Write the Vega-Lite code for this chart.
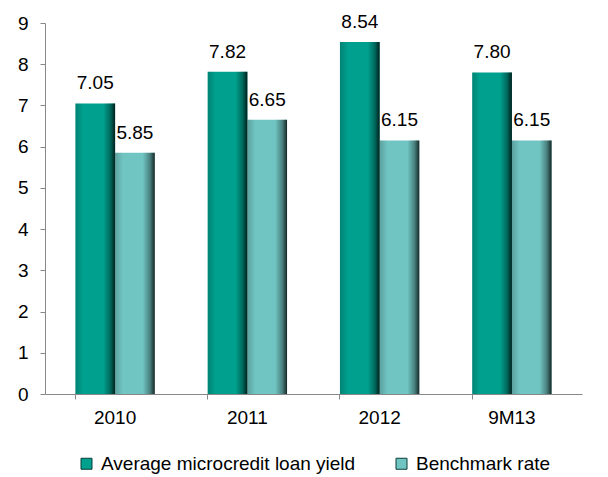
{
  "$schema": "https://vega.github.io/schema/vega-lite/v6.json",
  "width": 537,
  "height": 371,
  "autosize": "none",
  "padding": {"left": 45, "top": 23, "right": 26, "bottom": 83},
  "background": "white",
  "config": {
    "font": "Liberation Sans",
    "view": {"stroke": null},
    "legend": {"layout": {"bottom": {"anchor": "middle"}}}
  },
  "data": {
    "values": [
      {"period": "2010", "series": "Average microcredit loan yield", "value": 7.05},
      {"period": "2010", "series": "Benchmark rate", "value": 5.85},
      {"period": "2011", "series": "Average microcredit loan yield", "value": 7.82},
      {"period": "2011", "series": "Benchmark rate", "value": 6.65},
      {"period": "2012", "series": "Average microcredit loan yield", "value": 8.54},
      {"period": "2012", "series": "Benchmark rate", "value": 6.15},
      {"period": "9M13", "series": "Average microcredit loan yield", "value": 7.80},
      {"period": "9M13", "series": "Benchmark rate", "value": 6.15}
    ]
  },
  "encoding": {
    "x": {
      "field": "period", "type": "nominal", "sort": null,
      "scale": {"paddingInner": 0.4, "paddingOuter": 0.23},
      "axis": {"title": null, "labelAngle": 0, "labelFontSize": 19, "labelColor": "#000", "labelPadding": 9,
               "domainColor": "#888", "tickColor": "#888", "tickSize": 5, "bandPosition": 0}
    },
    "xOffset": {"field": "series", "type": "nominal", "scale": {"paddingInner": 0, "paddingOuter": 0}},
    "y": {
      "field": "value", "type": "quantitative",
      "scale": {"domain": [0, 9], "nice": false},
      "axis": {"title": null, "values": [0,1,2,3,4,5,6,7,8,9], "labelOverlap": false, "grid": false, "labelFontSize": 19, "labelColor": "#000", "labelPadding": 12,
               "domainColor": "#888", "tickColor": "#888", "tickSize": 5}
    }
  },
  "layer": [
    {
      "mark": {"type": "bar"},
      "encoding": {
        "color": {
          "field": "series", "type": "nominal",
          "scale": {"range": ["#00a08e", "#70c5c2"]},
          "legend": {"orient": "bottom", "direction": "horizontal", "title": null, "symbolType": "square", "symbolSize": 121, "symbolStrokeColor": "#0b3d38", "symbolStrokeWidth": 1, "labelFontSize": 19, "labelOffset": 5, "labelLimit": 400, "labelColor": "#000", "columnPadding": 36, "offset": 27}
        }
      }
    },
    {
      "mark": {
        "type": "bar",
        "color": {
          "x1": 0, "y1": 0, "x2": 1, "y2": 0, "gradient": "linear",
          "stops": [
            {"offset": 0, "color": "rgba(0,0,0,0.18)"},
            {"offset": 0.2, "color": "rgba(0,0,0,0)"},
            {"offset": 0.7, "color": "rgba(0,0,0,0)"},
            {"offset": 0.88, "color": "rgba(0,0,0,0.35)"},
            {"offset": 1, "color": "rgba(0,0,0,0.8)"}
          ]
        }
      },
      "encoding": {}
    },
    {
      "mark": {"type": "text", "baseline": "bottom", "dy": -10, "fontSize": 19, "color": "#000"},
      "encoding": {"text": {"field": "value", "type": "quantitative", "format": ".2f"}}
    }
  ]
}
